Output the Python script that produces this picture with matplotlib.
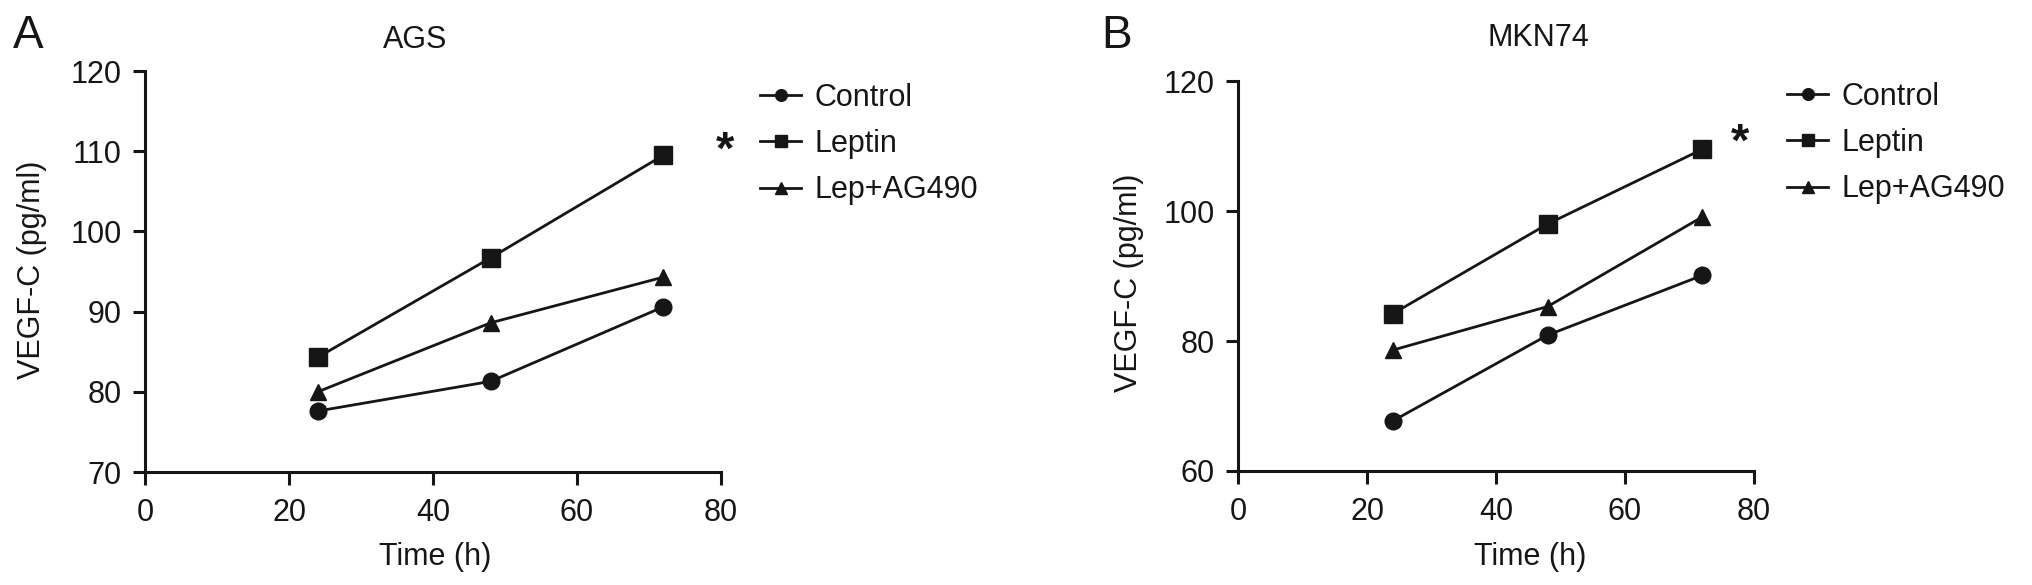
import matplotlib
matplotlib.use("Agg")
import matplotlib.pyplot as plt

# ─────── Data ───────
times = [24, 48, 72]

ags_control = [77.6, 81.3, 90.6]
ags_leptin = [84.3, 96.7, 109.5]
ags_lep_ag490 = [80.0, 88.6, 94.3]

mkn_control = [67.7, 80.9, 90.1]
mkn_leptin = [84.2, 98.0, 109.5]
mkn_lep_ag490 = [78.6, 85.3, 99.1]

series_names = ["Control", "Leptin", "Lep+AG490"]
x_ticks = [0, 20, 40, 60, 80]
ags_yticks = [70, 80, 90, 100, 110, 120]
mkn_yticks = [60, 80, 100, 120]

W, H = 2032, 585
INK = "#161616"

plt.rcParams["font.family"] = ["Liberation Sans", "DejaVu Sans"]
plt.rcParams["text.color"] = INK


def fx(px):
    return px / W


def fy(py):
    return 1 - py / H


def draw_panel(ax, control, leptin, lep_ag, yticks, leg_xy):
    styles = [("o", 12), ("s", 12.5), ("^", 12)]
    for vals, name, (mk, ms) in zip([control, leptin, lep_ag], series_names, styles):
        ax.plot(times, vals, color=INK, lw=2.0, marker=mk, ms=ms,
                mec=INK, mfc=INK, label=name, clip_on=False)

    ax.set_xlim(0, 80)
    ax.set_ylim(yticks[0], yticks[-1])
    ax.set_xticks(x_ticks)
    ax.set_yticks(yticks)
    for s in ["top", "right"]:
        ax.spines[s].set_visible(False)
    for s in ["left", "bottom"]:
        ax.spines[s].set_linewidth(2.2)
        ax.spines[s].set_color(INK)
    ax.tick_params(axis="both", direction="out", length=9, width=2.2,
                   color=INK, labelsize=22, labelcolor=INK)
    ax.tick_params(axis="x", pad=10)
    ax.tick_params(axis="y", pad=8)

    leg = ax.legend(loc="center left", bbox_to_anchor=leg_xy,
                    bbox_transform=fig.transFigure, frameon=False,
                    fontsize=22, handlelength=1.35, handletextpad=0.42,
                    labelspacing=0.53, markerscale=0.7, borderpad=0,
                    borderaxespad=0)
    return leg


fig = plt.figure(figsize=(W / 100, H / 100), dpi=100)

# Panel A: AGS
ax_a = fig.add_axes([fx(145), fy(472), fx(721 - 145), (472 - 71) / H])
draw_panel(ax_a, ags_control, ags_leptin, ags_lep_ag490, ags_yticks,
           (fx(760), fy(144)))

# Panel B: MKN74
ax_b = fig.add_axes([fx(1238), fy(471), fx(1754 - 1238), (471 - 81) / H])
draw_panel(ax_b, mkn_control, mkn_leptin, mkn_lep_ag490, mkn_yticks,
           (fx(1787), fy(143)))

# Titles, axis labels, panel letters
fig.text(fx(13), fy(48), "A", fontsize=33, va="baseline", ha="left")
fig.text(fx(1101), fy(48), "B", fontsize=33, va="baseline", ha="left")

fig.text(fx(415), fy(48), "AGS", fontsize=22, ha="center", va="baseline")
fig.text(fx(1538), fy(46), "MKN74", fontsize=22, ha="center", va="baseline")

fig.text(fx(435), fy(565), "Time (h)", fontsize=22, ha="center", va="baseline")
fig.text(fx(1530), fy(565), "Time (h)", fontsize=22, ha="center", va="baseline")

fig.text(fx(32), fy(270), "VEGF-C (pg/ml)", fontsize=22, rotation=90,
         ha="center", va="center")
fig.text(fx(1129), fy(283), "VEGF-C (pg/ml)", fontsize=22, rotation=90,
         ha="center", va="center")

# Significance marks
fig.text(fx(725), fy(152), "*", fontsize=34, fontweight="bold",
         ha="center", va="center")
fig.text(fx(1740), fy(144), "*", fontsize=34, fontweight="bold",
         ha="center", va="center")

fig.savefig("out.png", dpi=100)
